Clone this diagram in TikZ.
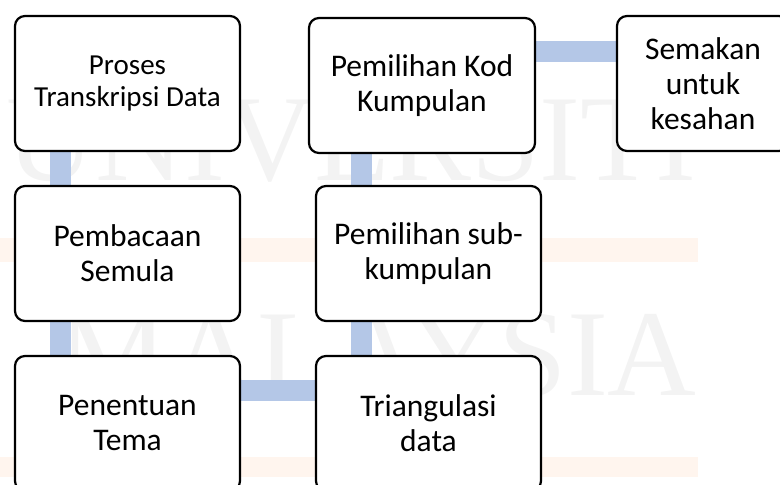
\documentclass[tikz,border=0pt]{standalone}
\usepackage{fontspec}
\setmainfont{Carlito}
\newfontfamily\wmfont{Liberation Serif}
\usetikzlibrary{backgrounds}

\definecolor{linkblue}{HTML}{B4C7E7}
\definecolor{wmgrey}{HTML}{F3F3F3}
\definecolor{wmorange}{HTML}{FFF5EE}

\tikzset{
  langkah/.style={draw=black, line width=2.2pt, rounded corners=10pt, fill=white,
    align=center, minimum width=225pt, minimum height=135pt, inner sep=4pt,
    font=\fontsize{31.5}{35}\selectfont},
  hubung/.style={linkblue, line width=21pt},
  teraair/.style={wmgrey, anchor=base east, inner sep=0pt,
    font=\wmfont\fontsize{123}{123}\selectfont},
}

\begin{document}
\begin{tikzpicture}[x=1pt,y=-1pt]
  \useasboundingbox (0,0) rectangle (780,485);

  % Kotak langkah
  \node[langkah, font=\fontsize{29}{32}\selectfont] (proses) at (127.5,83.5) {Proses\\Transkripsi Data};
  \node[langkah] (baca) at (127.5,253.5) {Pembacaan\\Semula};
  \node[langkah] (tema) at (127.5,423.5) {Penentuan\\Tema};
  \node[langkah, minimum width=226pt] (kod) at (422,85.5) {Pemilihan Kod\\Kumpulan};
  \node[langkah] (sub) at (428.5,253.5) {Pemilihan sub-\\kumpulan};
  \node[langkah] (trian) at (428.5,423.5) {Triangulasi\\data};
  \node[langkah, minimum width=172pt] (semak) at (703,83.5) {Semakan\\untuk\\kesahan};

  \begin{scope}[on background layer]
    % Tera air
    \fill[wmorange] (0,238) rectangle (698,262);
    \fill[wmorange] (0,457) rectangle (698,477);
    \node[teraair] (wmatas) at (697,180) {UNIVERSITI};
    \node[teraair] (wmbawah) at (697,395) {MALAYSIA};

    % Penghubung
    \draw[hubung] ([xshift=-67pt]proses.south) -- ([xshift=-67pt]baca.north);
    \draw[hubung] ([xshift=-67pt]baca.south) -- ([xshift=-67pt]tema.north);
    \draw[hubung] ([yshift=33pt]tema.east) -- ([yshift=33pt]trian.west);
    \draw[hubung] ([xshift=-67pt]trian.north) -- ([xshift=-67pt]sub.south);
    \draw[hubung] ([xshift=-67pt]sub.north) -- ([xshift=-67pt]sub.north |- kod.south);
    \draw[hubung] ([yshift=34pt]kod.east) -- ([yshift=34pt]kod.east -| semak.west);
  \end{scope}
\end{tikzpicture}
\end{document}
